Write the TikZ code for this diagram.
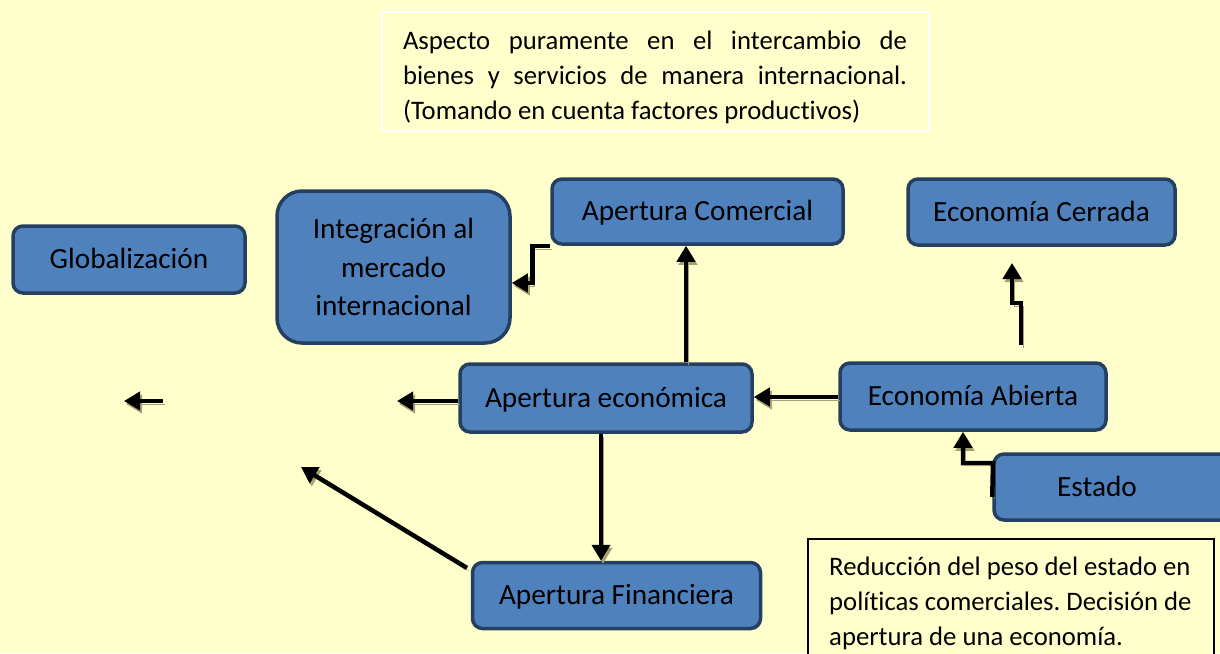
\documentclass[tikz,border=0pt]{standalone}
\usepackage{fontspec}
\setmainfont{Carlito}[Ligatures=NoCommon]
\usetikzlibrary{arrows.meta,calc}
\hyphenpenalty=10000
\exhyphenpenalty=10000
\frenchspacing
\definecolor{bg}{HTML}{FFFFCC}
\definecolor{boxfill}{HTML}{4F81BD}
\definecolor{boxline}{HTML}{243F60}
\definecolor{shc}{HTML}{A3A072}
\begin{document}
\begin{tikzpicture}[x=1pt,y=-1pt,
  box/.style={draw=boxline, fill=boxfill, line width=3.5pt, rounded corners=10pt,
    font=\fontsize{29.3}{35}\selectfont, inner sep=0pt, text height=19.5pt, text depth=1pt},
  arr/.style={line width=4.5pt, -{Triangle[length=16pt,width=18pt]},
    preaction={draw=shc, transform canvas={shift={(2pt,-3pt)}}}},
  txt/.style={font=\fontsize{26.7}{35}\selectfont, inner sep=0pt}
]
\fill[bg] (0,0) rectangle (1220,653);
\useasboundingbox (0,0) rectangle (1220,653);

% top text box
\node[draw=white, line width=2pt, fill=bg, minimum width=547pt, minimum height=119pt, inner sep=0pt] (topbox) at (655,71) {};
\node[txt, text width=504pt, align=justify] (toptxt) at (655,77)
  {Aspecto puramente en el intercambio de \mbox{bienes} y servicios de manera internacional. (Tomando en cuenta factores productivos)};

% boxes
\node[box, minimum width=232pt, minimum height=67pt] (glob) at (129,259.5) {Globalización};
\node[box, rounded corners=25pt, minimum width=233pt, minimum height=152pt, align=center,
  text height=, text depth=, font=\fontsize{29.3}{38.5}\selectfont] (integ) at (393.5,267) {Integración al\\mercado\\internacional};
\node[box, minimum width=291pt, minimum height=65pt] (acom) at (697.5,211.5) {Apertura Comercial};
\node[box, minimum width=267pt, minimum height=66pt] (ecer) at (1041.5,212) {Economía Cerrada};
\node[box, minimum width=292pt, minimum height=68pt] (aeco) at (606,398) {Apertura económica};
\node[box, minimum width=266pt, minimum height=67pt] (eabi) at (973,396.5) {Economía Abierta};
\node[box, minimum width=270pt, minimum height=66pt] (estado) at (1129,487) {};
\node[inner sep=0pt, font=\fontsize{29.3}{35}\selectfont, text height=19.5pt, text depth=1pt] (estadotxt) at (1097,487) {Estado};
\node[box, minimum width=288pt, minimum height=66pt] (afin) at (616.5,595.5) {Apertura Financiera};

% bottom right text box
\node[draw=black, line width=1.5pt, fill=bg, minimum width=406pt, minimum height=140pt, anchor=north west, inner sep=0pt] (botbox) at (807,538) {};
\node[txt, align=left, anchor=north west] (bottxt) at (829,557)
  {Reducción del peso del estado en\\políticas comerciales. Decisión de\\apertura de una economía.};

% coordinates for free ends
\coordinate (e5) at (397,401);
\coordinate (f1) at (163,401);
\coordinate (f2) at (124,401);
\coordinate (d1) at (467,568);
\coordinate (d2) at (301,467);
\coordinate (c1) at (1021,345);
\coordinate (c2) at (1012,263);

% arrows
\draw[arr] (acom.south west) -- ++(-18,0) |- ([yshift=-16pt]integ.east);
\draw[arr] (aeco.north -| 686,0) -- (acom.south -| 686,0);
\draw[arr] (aeco.south -| 601,0) -- (afin.north -| 601,0);
\draw[arr] (eabi.west |- 0,397) -- (aeco.east |- 0,397);
\draw[arr] (aeco.west |- 0,401) -- (e5);
\draw[arr] (f1) -- (f2);
\draw[arr] (d1) -- (d2);
\draw[arr] (c1) -- (1021,303) -- (1012,303) -- (c2);
\draw[arr] (estado.west |- 0,497) -- (993,463) -- (963,463) -- (eabi.south -| 963,0);
\end{tikzpicture}
\end{document}
